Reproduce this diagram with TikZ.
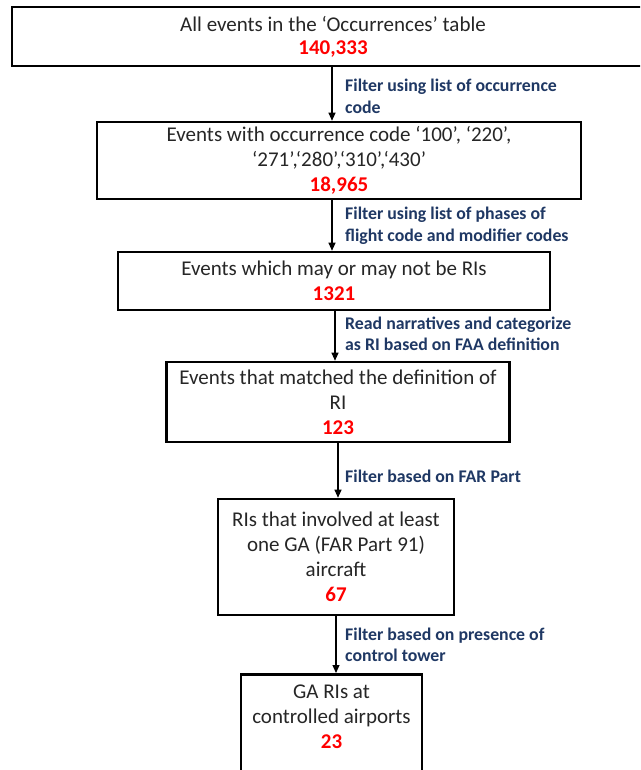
\documentclass[tikz,border=0pt]{standalone}
\usepackage{fontspec}
\setmainfont{Carlito}
\usetikzlibrary{arrows.meta}
\definecolor{lblue}{RGB}{31,56,100}
\definecolor{numred}{RGB}{255,0,0}
\tikzset{
  box/.style={draw=black, line width=2.6pt, fill=white, align=center, inner sep=0pt,
    font=\fontsize{21pt}{25pt}\selectfont, text=black!85},
  txt/.style={align=center, inner sep=0pt, font=\fontsize{21pt}{25pt}\selectfont, text=black!85},
  lbl/.style={anchor=west, align=left, inner sep=0pt, text=lblue,
    font=\fontsize{17.8pt}{21.5pt}\selectfont\bfseries},
  arr/.style={line width=1.1pt, -{Triangle[length=8pt,width=7pt]}},
}
\newcommand{\num}[1]{\textcolor{numred}{\bfseries #1}}
\begin{document}
\begin{tikzpicture}[x=1pt,y=-1pt]
\useasboundingbox (0,0) rectangle (640,770);
\fill[white] (0,0) rectangle (640,770);
\clip (0,0) rectangle (640,770);

\node[box, minimum width=642pt, minimum height=59pt] (b1) at (333,36.5)
  {All events in the `Occurrences' table\\[-2pt] \num{140,333}};
\node[box, minimum width=484pt, minimum height=77pt] (b2) at (339,160.5)
  {Events with occurrence code `100', `220',\\ `271',`280',`310',`430'\\ \num{18,965}};
\node[box, minimum width=432pt, minimum height=58pt] (b3) at (334,281)
  {Events which may or may not be RIs\\ \num{1321}};
\node[box, minimum width=343pt, minimum height=80pt] (b4) at (338,402)
  {Events that matched the definition of\\ RI\\ \num{123}};
\node[box, minimum width=236pt, minimum height=116pt] (b5) at (336,557)
  {RIs that involved at least\\ one GA (FAR Part 91)\\ aircraft\\ \num{67}};
\node[box, minimum width=181pt, minimum height=130pt, anchor=north] (b6) at (331.5,673) {};
\node[txt] (t6) at (331.5,716.5)
  {GA RIs at\\ controlled airports\\ \num{23}};

\draw[arr] (b1.south -| 332,0) -- (b2.north -| 332,0);
\draw[arr] (b2.south -| 332,0) -- (b3.north -| 332,0);
\draw[arr] (b3.south -| 335,0) -- (b4.north -| 335,0);
\draw[arr] (b4.south -| 338,0) -- (b5.north -| 338,0);
\draw[arr] (b5.south -| 336,0) -- (b6.north -| 336,0);

\node[lbl] (l1) at (345,96.5) {Filter using list of occurrence\\ code};
\node[lbl] (l2) at (345,226) {Filter using list of phases of\\ flight code and modifier codes};
\node[lbl] (l3) at (345,334) {Read narratives and categorize\\ as RI based on FAA definition};
\node[lbl] (l4) at (345,476) {Filter based on FAR Part};
\node[lbl] (l5) at (345,645) {Filter based on presence of\\ control tower};
\end{tikzpicture}
\end{document}
